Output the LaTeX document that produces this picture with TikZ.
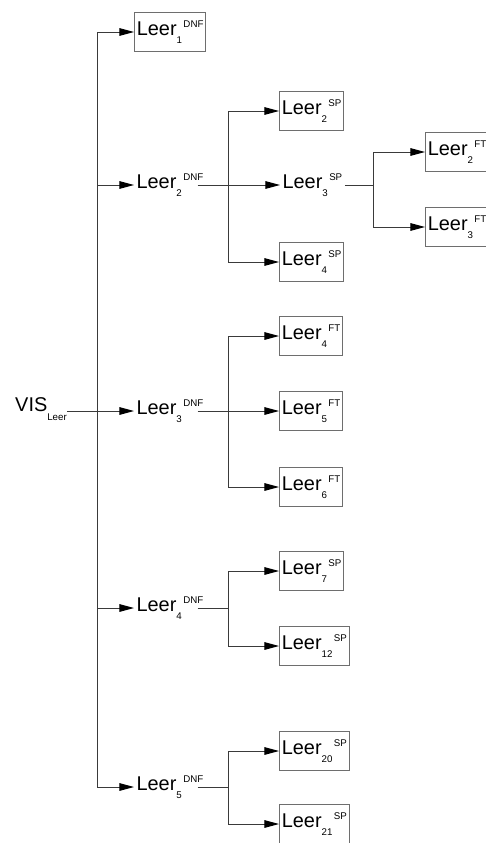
\documentclass[tikz,border=0pt]{standalone}
\usepackage{fontspec}
\setmainfont{Liberation Sans}
\usepackage{tikz}
\usetikzlibrary{arrows.meta}
\definecolor{wireGray}{HTML}{3A3A3A}
\definecolor{boxGray}{HTML}{6E6E6E}
\newcommand{\idxfont}{\fontsize{8.3}{9}\selectfont}
\newcommand{\leer}[2]{Leer\raisebox{-6.8pt}{\idxfont #1}\kern1.2pt\raisebox{7.4pt}{\idxfont #2}}

\begin{document}
\begin{tikzpicture}[
    x=0.03cm, y=-0.03cm,
    every node/.style={font=\fontsize{17}{20}\selectfont, inner xsep=2pt, inner ysep=0pt, anchor=west},
    leertext/.style={text height=20pt, text depth=13.2pt},
    leerbox/.style={leertext, draw=boxGray, line width=0.8pt},
    wire/.style={draw=wireGray, line width=0.8pt},
    arr/.style={wire, -{Triangle[length=12.5pt, width=6.5pt, color=black]}},
    dnftail/.style={shorten <=-7pt}
]
\useasboundingbox (0,0) rectangle (486,843);

% root and the DNF level
\node[inner xsep=0pt, text height=8pt, text depth=8pt] (vis) at (15,411) {VIS\raisebox{-7.7pt}{\idxfont Leer}};
\node[leerbox] (dnf1) at (134,32) {\leer{1}{DNF}};
\node[leertext] (dnf2) at (134,185) {\leer{2}{DNF}};
\node[leertext] (dnf3) at (134,411) {\leer{3}{DNF}};
\node[leertext] (dnf4) at (134,608) {\leer{4}{DNF}};
\node[leertext] (dnf5) at (134,787) {\leer{5}{DNF}};

% second level
\node[leerbox] (sp2) at (279,111) {\leer{2}{SP}};
\node[leertext] (sp3) at (280,185) {\leer{3}{SP}};
\node[leerbox] (sp4) at (279,262) {\leer{4}{SP}};
\node[leerbox] (ft4) at (279,336) {\leer{4}{FT}};
\node[leerbox] (ft5) at (279,411) {\leer{5}{FT}};
\node[leerbox] (ft6) at (279,487) {\leer{6}{FT}};
\node[leerbox] (sp7) at (279,571) {\leer{7}{SP}};
\node[leerbox] (sp12) at (279,646) {\leer{12}{SP}};
\node[leerbox] (sp20) at (279,751) {\leer{20}{SP}};
\node[leerbox] (sp21) at (279,824) {\leer{21}{SP}};

% third level
\node[leerbox] (ft2) at (425,152) {\leer{2}{FT}};
\node[leerbox] (ft3) at (425,227) {\leer{3}{FT}};

\coordinate (spine) at (97,411);
\coordinate (j2) at (228,185);
\coordinate (j3) at (228,411);
\coordinate (j4) at (228,608);
\coordinate (j5) at (228,787);
\coordinate (jsp3) at (373,185);

\draw[arr] (vis.east) -- (dnf3.west);
\foreach \n in {1,2,4,5}
    \draw[arr] (spine) |- (dnf\n.west);

\draw[arr, dnftail] (dnf2.east) -- (sp3.west);
\foreach \c in {sp2,sp4}
    \draw[arr] (j2) |- (\c.west);

\draw[arr, dnftail] (dnf3.east) -- (ft5.west);
\foreach \c in {ft4,ft6}
    \draw[arr] (j3) |- (\c.west);

\draw[wire, dnftail] (dnf4.east) -- (j4);
\foreach \c in {sp7,sp12}
    \draw[arr] (j4) |- (\c.west);

\draw[wire, dnftail] (dnf5.east) -- (j5);
\foreach \c in {sp20,sp21}
    \draw[arr] (j5) |- (\c.west);

\draw[wire] (sp3.east) -- (jsp3);
\foreach \c in {ft2,ft3}
    \draw[arr] (jsp3) |- (\c.west);
\end{tikzpicture}
\end{document}
